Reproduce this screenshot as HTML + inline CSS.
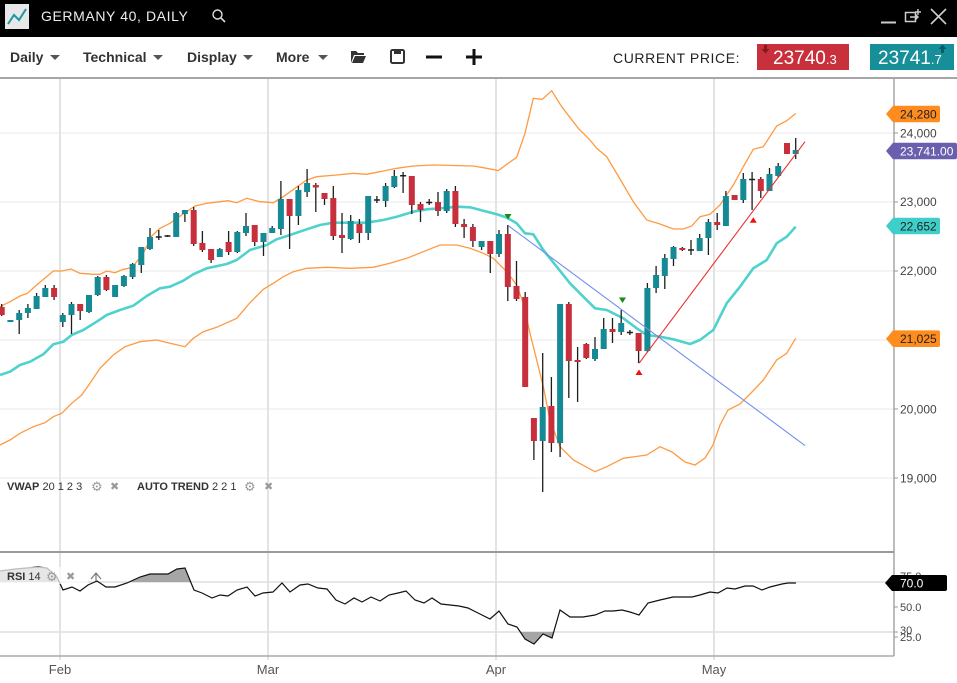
<!DOCTYPE html>
<html><head><meta charset="utf-8"><style>
html,body{margin:0;padding:0;background:#fff;}
svg{display:block;font-family:"Liberation Sans",sans-serif;}
</style></head><body>
<svg width="957" height="683" viewBox="0 0 957 683" xmlns="http://www.w3.org/2000/svg">
<defs>
<clipPath id="mc"><rect x="0" y="79" width="894" height="472"/></clipPath>
<clipPath id="rc"><rect x="0" y="553" width="894" height="103"/></clipPath>
</defs>
<rect width="957" height="683" fill="#fff"/>
<!-- title bar -->
<rect x="0" y="0" width="957" height="37" fill="#000"/>
<rect x="5" y="4" width="24" height="25" fill="#e8e8e8"/>
<polyline points="8,24 14,15 19,20 26,9" fill="none" stroke="#1a9aa0" stroke-width="2"/>
<text x="41" y="21" fill="#eeeeee" font-size="14" letter-spacing="0.6">GERMANY 40, DAILY</text>
<circle cx="217.5" cy="14.5" r="4.5" fill="none" stroke="#ddd" stroke-width="1.4"/>
<line x1="220.8" y1="17.8" x2="225" y2="22" stroke="#ddd" stroke-width="1.6"/>
<line x1="881" y1="22.5" x2="896" y2="22.5" stroke="#ccc" stroke-width="2"/>
<rect x="905.5" y="12.5" width="10" height="9" fill="none" stroke="#ccc" stroke-width="1.5"/>
<path d="M910 17h8M915 14l3 3-3 3M918 9v6M915 12h6" fill="none" stroke="#ccc" stroke-width="1.4"/>
<path d="M931 9L946 24M946 9L931 24" stroke="#ccc" stroke-width="1.6"/>
<!-- toolbar -->
<g font-weight="bold" font-size="14" fill="#333">
<text x="10" y="62">Daily</text>
<text x="83" y="62">Technical</text>
<text x="187" y="62">Display</text>
<text x="276" y="62">More</text>
</g>
<g fill="#555">
<path d="M50 55h10l-5 5z"/><path d="M153 55h10l-5 5z"/><path d="M243 55h10l-5 5z"/><path d="M318 55h10l-5 5z"/>
</g>
<path d="M351 51h5l2 2h6v2h-10l-3 8z" fill="#333"/><path d="M355 56h11l-3 7h-11z" fill="#333"/>
<rect x="391" y="50" width="13" height="13" rx="1.5" fill="none" stroke="#333" stroke-width="2"/>
<rect x="394" y="50" width="7" height="4" fill="#333"/>
<rect x="426" y="55.5" width="16" height="3" fill="#111"/>
<rect x="466" y="55.5" width="16" height="3" fill="#111"/>
<rect x="472.5" y="49" width="3" height="16" fill="#111"/>
<text x="613" y="63" font-size="14" fill="#222" letter-spacing="0.6">CURRENT PRICE:</text>
<rect x="757" y="44" width="92" height="26" fill="#c8303c"/>
<path d="M764 45h3v4h2.5l-4 4.5-4-4.5h2.5z" fill="#8a1820"/>
<text x="773" y="64" fill="#fff" font-size="19">23740<tspan font-size="13">.3</tspan></text>
<rect x="870" y="44" width="84" height="26" fill="#178f98"/>
<text x="878" y="64" fill="#fff" font-size="19">23741<tspan font-size="13">.7</tspan></text>
<path d="M941 53h3v-4h2.5l-4-4.5-4 4.5h2.5z" fill="#0b5d64"/>
<line x1="0" y1="78" x2="957" y2="78" stroke="#888" stroke-width="1.5"/>

<!-- grid -->
<g stroke="#f0f0f0" stroke-width="1.5">
<line x1="0" y1="133" x2="894" y2="133"/><line x1="0" y1="202" x2="894" y2="202"/>
<line x1="0" y1="271" x2="894" y2="271"/><line x1="0" y1="340" x2="894" y2="340"/>
<line x1="0" y1="409" x2="894" y2="409"/><line x1="0" y1="478" x2="894" y2="478"/>
</g>
<g stroke="#dedede" stroke-width="1.5">
<line x1="0" y1="582" x2="894" y2="582"/><line x1="0" y1="632" x2="894" y2="632"/>
</g>
<g stroke="#e0e0e0" stroke-width="1.8">
<line x1="60" y1="79" x2="60" y2="660"/><line x1="268" y1="79" x2="268" y2="660"/>
<line x1="496" y1="79" x2="496" y2="660"/><line x1="714" y1="79" x2="714" y2="660"/>
</g>

<g clip-path="url(#mc)">
<!-- bands -->
<polyline fill="none" stroke="#ff9a40" stroke-width="1.3" points="0,306.7 10,301.7 20,296 27.3,293.3 36.7,285 53.3,271 61.7,271 71,269 80,273.3 93.3,274.3 100,274.3 106.7,271 115,272.7 123.3,269.3 131.7,267.7 136.7,261.7 143.3,253.3 151.7,236 160,228.3 170,223.3 176.7,218.3 186.7,211.7 195,206 206.7,203.3 228.3,200.7 236.7,202.7 246.7,198.3 260,201.7 273.3,202.7 283.3,196.7 295,188.3 306.7,180 316.7,176.7 336.7,175 353.3,173.3 366.7,174.3 380,171.7 396.7,168.3 413.3,166 433.3,165 453.3,165.5 473.3,166 486.7,168.3 498.3,170.5 510,162 516.7,157.3 525,133.3 533.3,98.3 542.3,99.3 551.7,90.7 561.7,106.7 578.3,128.3 590,140 596.7,148.3 606.7,156.7 620,179 633.3,201.7 646.7,220 660,224 673.3,229 683.3,229 691.7,226 700,216.7 710,214.3 720,205 733.3,185 743.3,166.7 753.3,149.3 763.3,146.7 776.7,126 786.7,120.7 795.7,113.5"/>
<polyline fill="none" stroke="#ff9a40" stroke-width="1.3" points="0,445 10,440 20,433.3 33.3,426.7 45,422.7 53.3,416.7 61.7,413.3 71.7,403.3 81.7,395 90,383.3 100,368.3 113.3,355 125,346.7 140,341.7 156.7,340 170,343.3 185,346.7 193.3,338.3 203.3,331.7 216.7,327.3 236.7,318.3 250,302.7 263.3,289.3 273.3,283.3 283.3,276.7 293.3,271.7 306.7,268.3 326.7,267.3 350,268.3 373.3,267.3 390,263.3 406.7,258.3 423.3,251.7 440,245 456.7,245 470,248.3 483.3,253.3 493.3,258.3 506.7,271.7 516.7,285 523.3,303.3 530,333.3 536.7,360 543.3,386.7 550,420 560,446.7 573.3,460 595,471.7 606.7,466.7 623.3,458.3 646.7,455 660,446.7 672,452 685,462 695,465 705,458 713,445 720,425 728,410 740,404 752,392 763.3,380 776.7,360 786.7,353.3 795.7,338.3"/>
<polyline fill="none" stroke="#4fd2cd" stroke-width="2.6" stroke-linejoin="round" points="0,375 10,371.7 20,365 30,361.7 43.3,354.3 53.3,344.3 63.3,341.7 71.7,335 83.3,330 96.7,321.7 106.7,315 120,310 133.3,305.7 146.7,296 160,288.3 170,286.7 183.3,280.7 193.3,274.3 206.7,268.3 226.7,264 236.7,260 250,250 266.7,245 276.7,239.3 290,235 306.7,229.3 320,225 333.3,222.7 350,222.7 366.7,222.7 383.3,220 396.7,216.7 413.3,211.7 426.7,209.3 440,208.3 456.7,206.7 470,207.3 483.3,210.7 496.7,214.3 506.7,217.5 516.7,223.3 525,233.3 533.3,234.3 543.3,250 556.7,266.7 570,283.3 583.3,296.7 595,308.3 606.7,310 623.3,318.3 636.7,328.3 646.7,335 660,336.7 673.3,339.3 690,344 700,340 713.3,330 726.7,303.3 740,286.7 753.3,268.3 766.7,260 776.7,243.3 786.7,236.7 795.7,226.7"/>
<!-- wicks -->
<path fill="none" stroke="#1e1e1e" stroke-width="1.3" d="M1.7 304V316M10.4 320V322M19.2 310V334M27.9 304V318M36.6 293V309M45.3 285V297M54.1 285V300M62.8 313V327M71.5 302V334M80.2 304V320M89 295V313M97.7 276V296M106.4 275V291M115.1 285V297M123.9 275V287M132.6 263V279M141.3 247V273M150 228V250M158.8 230V240M167.5 235V237M176.2 212V237M184.9 210V222M193.7 207V246M202.4 231V252M211.1 249V263M219.8 248V257M228.6 231V255M237.3 231V253M246 213V236M254.7 225V246M263.5 233V256M272.2 226V233M280.9 181V235M289.6 199V249M298.4 186V225M307.1 169V197M315.8 183V212M324.5 193V205M333.3 186V240M342 213V253M350.7 215V240M359.4 219V243M368.2 196V240M376.9 196V203M385.6 183V207M394.3 170V188M403.1 172V193M411.8 176V214M420.5 202V222M429.2 199V205M438 192V216M446.7 189V213M455.4 186V227M464.1 219V238M472.9 224V247M481.6 241V250M490.3 241V273M499 230V257M507.8 225V301M516.5 261V301M525.2 292V387M533.9 418V460M542.7 353V492M551.4 377V452M560.1 304V457M568.8 302V398M577.6 347V402M586.3 343V359M595 337V361M603.7 318V349M612.5 318V343M621.2 310V335M629.9 330V335M638.6 333V363M647.4 283V352M656.1 266V293M664.8 254V289M673.5 246V266M682.3 247V251M691 240V255M699.7 234V251M708.4 219V255M717.2 213V230M725.9 191V226M734.6 195V200M743.3 173V203M752.1 172V210M760.8 177V198M769.5 168V191M778.2 163V177M787 143V154M795.7 138V159"/>
<path fill="none" stroke="#1e1e1e" stroke-width="1.5" d="M155.8 237H161.8M164.5 236H170.5M373.9 200H379.9M400.1 175.7H406.1M426.2 202.5H432.2M626.9 332.5H632.9M688 250H694M749.1 179.5H755.1"/>
<g fill="#158a94">
<rect x="7.4" y="320" width="6" height="2"/><rect x="16.2" y="313" width="6" height="7"/><rect x="24.9" y="308" width="6" height="5"/><rect x="33.6" y="296" width="6" height="13"/><rect x="42.3" y="288" width="6" height="9"/><rect x="59.8" y="315" width="6" height="7"/><rect x="68.5" y="304" width="6" height="11"/><rect x="86" y="295" width="6" height="17"/><rect x="94.7" y="277" width="6" height="18"/><rect x="112.1" y="285" width="6" height="12"/><rect x="120.9" y="276" width="6" height="10"/><rect x="129.6" y="264" width="6" height="13"/><rect x="138.3" y="247" width="6" height="18"/><rect x="147" y="237" width="6" height="12"/><rect x="173.2" y="213" width="6" height="24"/><rect x="181.9" y="210" width="6" height="4"/><rect x="216.8" y="249" width="6" height="8"/><rect x="234.3" y="232" width="6" height="20"/><rect x="243" y="226" width="6" height="7"/><rect x="260.5" y="233" width="6" height="9"/><rect x="269.2" y="228" width="6" height="5"/><rect x="277.9" y="199" width="6" height="30"/><rect x="295.4" y="190" width="6" height="26"/><rect x="304.1" y="183" width="6" height="9"/><rect x="347.7" y="221" width="6" height="18"/><rect x="365.2" y="196" width="6" height="37"/><rect x="382.6" y="186" width="6" height="15"/><rect x="391.3" y="176" width="6" height="11"/><rect x="443.7" y="191" width="6" height="20"/><rect x="478.6" y="241" width="6" height="6"/><rect x="496" y="234" width="6" height="20"/><rect x="539.7" y="407" width="6" height="34"/><rect x="557.1" y="304" width="6" height="139"/><rect x="592" y="349" width="6" height="10"/><rect x="600.7" y="329" width="6" height="20"/><rect x="618.2" y="323" width="6" height="9"/><rect x="644.4" y="288" width="6" height="63"/><rect x="653.1" y="275" width="6" height="13"/><rect x="661.8" y="258" width="6" height="18"/><rect x="670.5" y="247" width="6" height="12"/><rect x="696.7" y="238" width="6" height="13"/><rect x="705.4" y="222" width="6" height="16"/><rect x="722.9" y="196" width="6" height="30"/><rect x="740.3" y="179" width="6" height="21"/><rect x="766.5" y="174" width="6" height="17"/><rect x="775.2" y="166" width="6" height="10"/><rect x="792.7" y="150" width="6" height="4"/>
</g>
<g fill="#c62f3b">
<rect x="-1.3" y="307" width="6" height="8"/><rect x="51.1" y="288" width="6" height="9"/><rect x="77.2" y="304" width="6" height="7"/><rect x="103.4" y="277" width="6" height="13"/><rect x="190.7" y="210" width="6" height="34"/><rect x="199.4" y="243" width="6" height="7"/><rect x="208.1" y="249" width="6" height="11"/><rect x="225.6" y="242" width="6" height="10"/><rect x="251.7" y="225" width="6" height="17"/><rect x="286.6" y="199" width="6" height="17"/><rect x="312.8" y="185" width="6" height="2.5"/><rect x="321.5" y="193" width="6" height="6"/><rect x="330.3" y="198" width="6" height="38"/><rect x="339" y="235" width="6" height="3"/><rect x="356.4" y="224" width="6" height="9"/><rect x="408.8" y="176" width="6" height="29"/><rect x="417.5" y="204" width="6" height="6"/><rect x="435" y="202" width="6" height="9"/><rect x="452.4" y="191" width="6" height="33"/><rect x="461.1" y="224" width="6" height="3"/><rect x="469.9" y="227" width="6" height="14"/><rect x="487.3" y="241" width="6" height="13"/><rect x="504.8" y="234" width="6" height="53"/><rect x="513.5" y="286" width="6" height="13"/><rect x="522.2" y="297" width="6" height="90"/><rect x="530.9" y="418" width="6" height="23"/><rect x="548.4" y="406" width="6" height="37"/><rect x="565.8" y="304" width="6" height="57"/><rect x="574.6" y="360" width="6" height="2"/><rect x="583.3" y="344" width="6" height="14"/><rect x="609.5" y="329" width="6" height="3"/><rect x="635.6" y="333" width="6" height="18"/><rect x="679.3" y="248" width="6" height="2"/><rect x="714.2" y="222" width="6" height="3"/><rect x="731.6" y="195" width="6" height="5"/><rect x="757.8" y="179" width="6" height="12"/><rect x="784" y="143" width="6" height="11"/>
</g>
<!-- trend lines -->
<line x1="508.3" y1="225.7" x2="805" y2="445.6" stroke="#7090f0" stroke-width="1.1"/>
<line x1="639" y1="363.3" x2="805" y2="141.7" stroke="#e83030" stroke-width="1.1"/>
<path d="M504.5 214h7l-3.5 5.5z" fill="#178a17"/>
<path d="M619 297.5h7l-3.5 5.5z" fill="#178a17"/>
<path d="M635.5 375h7l-3.5-5.5z" fill="#ee1111"/>
<path d="M749.8 222.7h7l-3.5-5.5z" fill="#ee1111"/>
</g>

<!-- legends -->
<g font-size="11" fill="#333">
<text x="7" y="490"><tspan font-weight="bold">VWAP</tspan> 20 1 2 3</text>
<text x="137" y="490"><tspan font-weight="bold">AUTO TREND</tspan> 2 2 1</text>
</g>
<g font-family="DejaVu Sans" fill="#9a9a9a" font-size="13">
<text x="91" y="491">⚙</text><text x="110" y="490" font-size="11">✖</text>
<text x="244" y="491">⚙</text><text x="264" y="490" font-size="11">✖</text>
</g>

<!-- RSI pane -->
<g clip-path="url(#rc)">
<polygon fill="#a6a6a6" points="0,582 0,571 15,569 38,567 47,568 57,577 59.3,582"/>
<polygon fill="#a6a6a6" points="129,582 140,577 150,574 168,574 177,569 185,568 190.7,582"/>
<polygon fill="#a6a6a6" points="520.3,632 525,639 534,644 543,634 552,638 553.7,632"/>
<polyline fill="none" stroke="#111" stroke-width="1.2" points="0,571 15,569 38,567 47,568 57,577 63,590 72,587 80,591 88,585 97,581 106,587 115,587 127,583 140,577 150,574 168,574 177,569 185,568 194,590 202,593 212,598 220,595 228,596 237,590 247,587 255,596 263,593 273,592 282,583 290,592 300,585 308,584 318,588 327,589 336,600 345,604 354,598 362,602 371,597 380,601 389,595 398,593 406,591 415,600 424,603 432,598 441,604 450,605 459,606 468,608 476,612 480,614 490,619 499,611 508,624 517,627 525,639 534,644 543,634 552,638 560,610 570,617 583,617 595,615 605,611 613,611 622,610 630,612 639,615 648,603 660,600 673,597 692,597 700,595 710,592 718,593 727,588 735,589 745,586 753,586 762,590 770,587 782,584 788,583 796,583"/>
</g>
<rect x="0" y="567" width="88" height="17" fill="#fff" fill-opacity="0.72"/>
<text x="7" y="580" font-size="11" fill="#333"><tspan font-weight="bold">RSI</tspan> 14</text>
<g font-family="DejaVu Sans" fill="#9a9a9a" font-size="13">
<text x="46" y="581">⚙</text><text x="66" y="580" font-size="11">✖</text>
</g>
<path d="M91 579l5-6 5 6M96 573v8" fill="none" stroke="#777" stroke-width="1.2"/>

<!-- pane borders -->
<line x1="0" y1="552" x2="894" y2="552" stroke="#9a9a9a" stroke-width="2"/>
<line x1="0" y1="656" x2="894" y2="656" stroke="#aaa" stroke-width="1.5"/>
<line x1="894" y1="79" x2="894" y2="656" stroke="#999" stroke-width="1.3"/>

<!-- axis ticks -->
<g stroke="#999" stroke-width="1">
<path d="M894 133h4M894 202h4M894 271h4M894 340h4M894 409h4M894 478h4M894 576h4M894 607h4M894 632h4M894 637h4"/>
</g>
<g font-size="12" fill="#444">
<text x="900" y="137.5">24,000</text>
<text x="900" y="206">23,000</text>
<text x="900" y="275">22,000</text>
<text x="900" y="413.5">20,000</text>
<text x="900" y="482.5">19,000</text>
<text x="900" y="580" font-size="11">75.0</text>
<text x="900" y="611" font-size="11">50.0</text>
<text x="900" y="634" font-size="11">30</text>
<text x="900" y="641" font-size="11">25.0</text>
</g>
<!-- price tags -->
<path d="M886 114l7-8.3h45a2 2 0 0 1 2 2v12.6a2 2 0 0 1-2 2h-45z" fill="#ff8c1f"/>
<text x="900" y="118.3" font-size="12" fill="#222">24,280</text>
<path d="M886 151l7-8.3h62a2 2 0 0 1 2 2v12.6a2 2 0 0 1-2 2h-62z" fill="#6a5fae"/>
<text x="900" y="155.3" font-size="12" fill="#fff">23,741.00</text>
<path d="M886 226l7-8.3h45a2 2 0 0 1 2 2v12.6a2 2 0 0 1-2 2h-45z" fill="#3fcfca"/>
<text x="900" y="230.3" font-size="12" fill="#222">22,652</text>
<path d="M886 338.7l7-8.3h45a2 2 0 0 1 2 2v12.6a2 2 0 0 1-2 2h-45z" fill="#ff8c1f"/>
<text x="900" y="343" font-size="12" fill="#222">21,025</text>
<path d="M885 583l7-8h53a2 2 0 0 1 2 2v12a2 2 0 0 1-2 2h-53z" fill="#000"/>
<text x="900" y="587.3" font-size="12" fill="#fff">70.0</text>

<!-- x axis -->
<g font-size="13" fill="#555" text-anchor="middle">
<text x="60" y="674">Feb</text>
<text x="268" y="674">Mar</text>
<text x="496" y="674">Apr</text>
<text x="714" y="674">May</text>
</g>
</svg>
</body></html>
